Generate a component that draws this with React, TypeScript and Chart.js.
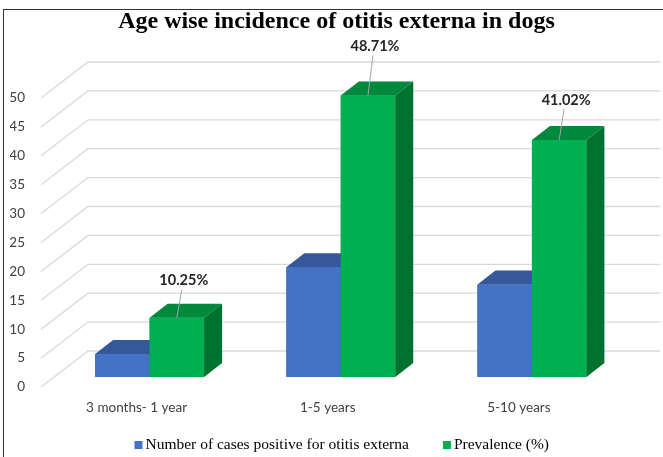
import React, { useEffect, useRef } from 'react';
import { Chart, registerables } from 'chart.js';

Chart.register(...registerables);

const chartTitle = 'Age wise incidence of otitis externa in dogs';
const categories = ['3 months- 1 year', '1-5 years', '5-10 years'];
const seriesNames = ['Number of cases positive for otitis externa', 'Prevalence (%)'];
const casesPositive = [4, 19, 16];
const prevalence = [10.25, 48.71, 41.02];
const prevalenceLabels = ['10.25%', '48.71%', '41.02%'];
const yTickValues = [0, 5, 10, 15, 20, 25, 30, 35, 40, 45, 50];

const FRONT = { fill: ['#4472C4', '#00B050'] };
const TOP = ['#35589A', '#00883D'];
const SIDE = ['#2E4F8A', '#007230'];
const DEPTH_DX = 18;
const DEPTH_DY = -14;
const LABEL_LIFT = [37, 49, 40];

const wallPlugin = {
  id: 'wall3d',
  beforeDatasetsDraw(chart: any) {
    const ctx = chart.ctx;
    const ys = chart.scales.y;
    const { left, right } = chart.chartArea;
    ctx.save();
    ctx.strokeStyle = '#d9d9d9';
    ctx.lineWidth = 1.3;
    for (const v of yTickValues) {
      const py = ys.getPixelForValue(v);
      ctx.beginPath();
      ctx.moveTo(left - 13, py + 10);
      ctx.lineTo(left + 34, py - 26);
      ctx.lineTo(right + 33, py - 26);
      ctx.stroke();
    }
    ctx.restore();
  },
  afterDatasetsDraw(chart: any) {
    const ctx = chart.ctx;
    ctx.save();
    chart.data.datasets.forEach((ds: any, di: number) => {
      const meta = chart.getDatasetMeta(di);
      meta.data.forEach((bar: any) => {
        const { x, y, base, width } = bar.getProps(['x', 'y', 'base', 'width'], true);
        const l = x - width / 2;
        const r = x + width / 2;
        ctx.fillStyle = FRONT.fill[di];
        ctx.fillRect(l, y, r - l, base - y);
        ctx.fillStyle = TOP[di];
        ctx.beginPath();
        ctx.moveTo(l, y);
        ctx.lineTo(l + DEPTH_DX, y + DEPTH_DY);
        ctx.lineTo(r + DEPTH_DX, y + DEPTH_DY);
        ctx.lineTo(r, y);
        ctx.closePath();
        ctx.fill();
        ctx.fillStyle = SIDE[di];
        ctx.beginPath();
        ctx.moveTo(r, y);
        ctx.lineTo(r + DEPTH_DX, y + DEPTH_DY);
        ctx.lineTo(r + DEPTH_DX, base + DEPTH_DY);
        ctx.lineTo(r, base);
        ctx.closePath();
        ctx.fill();
      });
    });
    ctx.restore();
  },
  afterDraw(chart: any) {
    const ctx = chart.ctx;
    ctx.save();
    // data labels for prevalence
    const meta = chart.getDatasetMeta(1);
    ctx.font = 'bold 14.5px Lato';
    ctx.textAlign = 'center';
    ctx.textBaseline = 'middle';
    meta.data.forEach((bar: any, i: number) => {
      const { x, y } = bar.getProps(['x', 'y'], true);
      const tx = x + 7;
      const ty = y - LABEL_LIFT[i];
      ctx.strokeStyle = '#a6a6a6';
      ctx.lineWidth = 1;
      ctx.beginPath();
      ctx.moveTo(x, y);
      ctx.lineTo(x + 5, ty + 9);
      ctx.stroke();
      ctx.fillStyle = '#262626';
      ctx.fillText(prevalenceLabels[i], tx, ty);
    });
    // legend
    ctx.font = '15.5px "Liberation Serif"';
    ctx.textAlign = 'left';
    ctx.textBaseline = 'alphabetic';
    const sq = 8, gapIn = 3, gapOut = 34;
    const widths = seriesNames.map((n) => sq + gapIn + ctx.measureText(n).width);
    const total = widths.reduce((a, b) => a + b, 0) + gapOut * (seriesNames.length - 1);
    const cx = (chart.chartArea.left + chart.chartArea.right) / 2 + 1;
    let lx = cx - total / 2;
    seriesNames.forEach((n, i) => {
      ctx.fillStyle = FRONT.fill[i];
      ctx.fillRect(lx, 441, sq, sq);
      ctx.fillStyle = '#000';
      ctx.fillText(n, lx + sq + gapIn, 448.5);
      lx += widths[i] + gapOut;
    });
    ctx.restore();
  },
};

function App() {
  const ref = useRef<HTMLCanvasElement | null>(null);
  useEffect(() => {
    if (!ref.current) return;
    const chart = new Chart(ref.current, {
      type: 'bar',
      data: {
        labels: categories,
        datasets: [
          { label: seriesNames[0], data: casesPositive, backgroundColor: FRONT.fill[0], barPercentage: 1, categoryPercentage: 0.57 },
          { label: seriesNames[1], data: prevalence, backgroundColor: FRONT.fill[1], barPercentage: 1, categoryPercentage: 0.57 },
        ],
      },
      options: {
        responsive: false,
        animation: false,
        layout: { padding: { left: 10, right: 0, top: 0, bottom: 0 } },
        plugins: {
          legend: { display: false },
          tooltip: { enabled: false },
          title: {
            display: true,
            text: chartTitle,
            color: '#000',
            font: { family: 'Liberation Serif', size: 24, weight: 'bold' },
            padding: { top: 7.6, bottom: 51.6 },
          },
        },
        scales: {
          x: {
            grid: { display: false, drawTicks: false },
            border: { display: false },
            ticks: {
              color: '#404040',
              font: { family: 'Lato', size: 13.5 },
              labelOffset: -13,
              padding: 23,
              maxRotation: 0,
            },
            afterFit: (s: any) => { s.height = 80; },
          },
          y: {
            min: 0,
            max: 50,
            grid: { display: false, drawTicks: false },
            border: { display: false },
            ticks: {
              stepSize: 5,
              color: '#404040',
              font: { family: 'Lato', size: 13.5 },
              labelOffset: 10,
              padding: 29,
            },
            afterFit: (s: any) => { s.width = 44; },
          },
          y2: {
            position: 'right',
            display: true,
            grid: { display: false, drawTicks: false },
            border: { display: false },
            ticks: { display: false },
            afterFit: (s: any) => { s.width = 35.5; },
          },
        },
      },
      plugins: [wallPlugin],
    } as any);
    return () => chart.destroy();
  }, []);

  return (
    <div style={{ position: 'fixed', left: 0, top: 0, width: 663, height: 457, background: '#fff' }}>
      <canvas ref={ref} width={663} height={457} style={{ display: 'block' }} />
      <div
        style={{
          position: 'absolute',
          left: 3,
          top: 9,
          right: 0,
          bottom: 0,
          borderLeft: '1.5px solid #333',
          borderTop: '1.5px solid #333',
          pointerEvents: 'none',
        }}
      />
    </div>
  );
}

export default App;
